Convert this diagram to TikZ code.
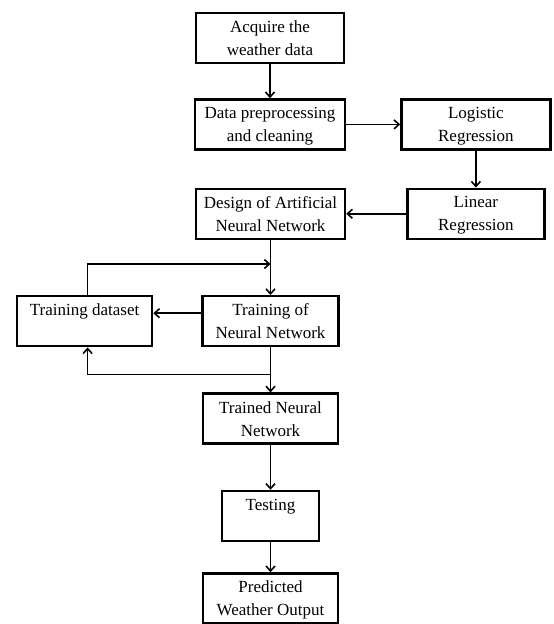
\documentclass[tikz,border=0pt]{standalone}
\usepackage{fontspec}
\setmainfont{Liberation Serif}
\usetikzlibrary{arrows.meta, positioning}

\begin{document}
\begin{tikzpicture}[
    x=1pt, y=-1pt,
    node distance=45pt,
    stage/.style={rectangle, draw=black, line width=2.4pt, minimum height=50pt, inner sep=0pt, align=center, text depth=0pt, font=\fontsize{17}{23}\selectfont},
    flow/.style={-{Straight Barb[length=5pt,width=9pt]}, line width=1.6pt}
]
    \useasboundingbox (0,0) rectangle (554,624);
    \node[stage, minimum width=148pt] (acquire) at (270,38) {Acquire the\\weather data};
    \node[stage, minimum width=150pt, below=34pt of acquire] (preproc) {Data preprocessing\\and cleaning};
    \node[stage, minimum width=149pt, right=54pt of preproc] (logistic) {Logistic\\Regression};
    \node[stage, minimum width=137pt, below=37pt of logistic] (linear) {Linear\\Regression};
    \node[stage, minimum width=149pt, left=60pt of linear] (design) {Design of Artificial\\Neural Network};
    \node[stage, minimum width=136pt, below=55pt of design] (trainnn) {Training of\\Neural Network};
    \node[stage, minimum width=135pt, left=48pt of trainnn] (dataset) {Training dataset\\~};
    \node[stage, minimum width=135pt, below=45pt of trainnn] (trained) {Trained Neural\\Network};
    \node[stage, minimum width=97pt, below=45pt of trained] (testing) {Testing\\~};
    \node[stage, minimum width=135pt, below=30pt of testing] (predicted) {Predicted\\Weather Output};

    \coordinate (topjoin) at ([yshift=31pt]trainnn.north);
    \coordinate (botjoin) at ([yshift=-27pt]trainnn.south);

    \draw[flow] (acquire) -- (preproc);
    \draw[flow] (preproc) -- (logistic);
    \draw[flow] (logistic) -- (linear);
    \draw[flow] (linear) -- (design);
    \draw[flow] (design) -- (trainnn);
    \draw[flow] ([yshift=8pt]trainnn.west) -- ([yshift=8pt]dataset.east);
    \draw[flow] ([xshift=3pt]dataset.north) |- (topjoin);
    \draw[flow] (trainnn) -- (trained);
    \draw[flow] (botjoin) -| ([xshift=3pt]dataset.south);
    \draw[flow] (trained) -- (testing);
    \draw[flow] (testing) -- (predicted);
\end{tikzpicture}
\end{document}
